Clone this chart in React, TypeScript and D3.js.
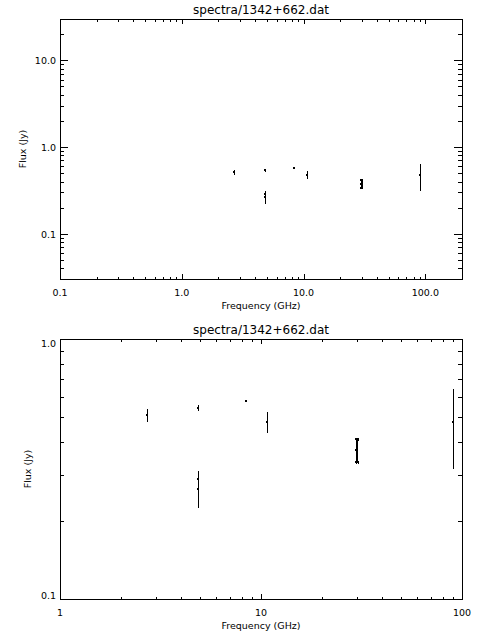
import * as d3 from "d3";

const freqGHz = [2.7, 4.85, 4.85, 4.85, 8.4, 10.7, 29.7, 30.1, 29.7, 30.4, 29.7, 30.4, 90.0];
const fluxJy = [0.51, 0.543, 0.29, 0.265, 0.579, 0.481, 0.373, 0.373, 0.411, 0.411, 0.336, 0.336, 0.48];
const fluxErr = [0.026, 0.012, 0.022, 0.04, 0.004, 0.043, 0.037, 0.037, 0.002, 0.002, 0.002, 0.002, 0.16];

const plotTitle = "spectra/1342+662.dat";
const xTitle = "Frequency (GHz)";
const yTitle = "Flux (Jy)";

const topXDomain = [0.1, 200];
const topYDomain = [0.03, 30];
const topXTickValues = [0.1, 1, 10, 100];
const topXTickLabels = ["0.1", "1.0", "10.0", "100.0"];
const topYTickValues = [0.1, 1, 10];
const topYTickLabels = ["0.1", "1.0", "10.0"];

const bottomXDomain = [1, 100];
const bottomYDomain = [0.1, 1];
const bottomXTickValues = [1, 10, 100];
const bottomXTickLabels = ["1", "10", "100"];
const bottomYTickValues = [0.1, 1];
const bottomYTickLabels = ["0.1", "1.0"];

const font = "DejaVu Sans, sans-serif";
const left = 60;
const right = 462;
const plotH = 260;

const isMajor = (v: number) => Math.abs(Math.log10(v) - Math.round(Math.log10(v))) < 1e-9;

const Panel = ({ top, xDomain, yDomain, xTicks, xLabels, yTicks, yLabels, yTitleX }: any) => {
    const bottom = top + plotH;
    const x = d3.scaleLog().domain(xDomain).range([left, right]);
    const y = d3.scaleLog().domain(yDomain).range([bottom, top]);

    const xAll = x.ticks().filter((t) => t > xDomain[0] && t < xDomain[1]);
    const yAll = y.ticks().filter((t) => t > yDomain[0] && t < yDomain[1]);

    const xMajorLen = 5, xMinorLen = 2.5;
    const yMajorLen = 8, yMinorLen = 4;

    return (
        <g>
            <text x={(left + right) / 2} y={top - 5} textAnchor="middle" fontFamily={font} fontSize={12}>
                {plotTitle}
            </text>

            {/* frame */}
            <rect x={left + 0.5} y={top + 0.5} width={right - left} height={plotH} fill="none" stroke="black" strokeWidth={1} shapeRendering="crispEdges" />

            {/* x ticks, bottom and top */}
            {xAll.map((t, i) => {
                const px = Math.round(x(t)) + 0.5;
                const len = isMajor(t) ? xMajorLen : xMinorLen;
                return (
                    <g key={"xt" + i} stroke="black" shapeRendering="crispEdges">
                        <line x1={px} x2={px} y1={bottom} y2={bottom - len} />
                        <line x1={px} x2={px} y1={top} y2={top + len} />
                    </g>
                );
            })}

            {/* y ticks, left and right */}
            {yAll.map((t, i) => {
                const py = Math.round(y(t)) + 0.5;
                const len = isMajor(t) ? yMajorLen : yMinorLen;
                return (
                    <g key={"yt" + i} stroke="black" shapeRendering="crispEdges">
                        <line x1={left} x2={left + len} y1={py} y2={py} />
                        <line x1={right} x2={right - len} y1={py} y2={py} />
                    </g>
                );
            })}

            {xTicks.map((t: number, i: number) => (
                <text key={"xl" + i} x={x(t)} y={bottom + 17} textAnchor="middle" fontFamily={font} fontSize={9.5}>
                    {xLabels[i]}
                </text>
            ))}

            {yTicks.map((t: number, i: number) => {
                // keep labels inside the vertical extent of the frame
                const base = Math.min(Math.max(y(t) + 4, top + 8), bottom);
                return (
                    <text key={"yl" + i} x={left - 4} y={base} textAnchor="end" fontFamily={font} fontSize={9.5}>
                        {yLabels[i]}
                    </text>
                );
            })}

            <text x={(left + right) / 2} y={bottom + 30} textAnchor="middle" fontFamily={font} fontSize={9.5}>
                {xTitle}
            </text>
            <text
                transform={`translate(${yTitleX}, ${(top + bottom) / 2}) rotate(-90)`}
                textAnchor="middle"
                fontFamily={font}
                fontSize={9.5}
            >
                {yTitle}
            </text>

            {/* error bars + dots */}
            {freqGHz.map((f, i) => {
                const px = Math.round(x(f));
                const yHi = y(fluxJy[i] + fluxErr[i]);
                const yLo = y(fluxJy[i] - fluxErr[i]);
                const py = Math.round(y(fluxJy[i]));
                return (
                    <g key={"p" + i} shapeRendering="crispEdges">
                        <line x1={px + 0.5} x2={px + 0.5} y1={Math.round(yHi)} y2={Math.round(yLo) + 1} stroke="black" strokeWidth={1} />
                        <rect x={px - 1} y={py - 1} width={2} height={2} fill="black" />
                    </g>
                );
            })}
        </g>
    );
};

export default function App() {
    return (
        <svg width={480} height={640} style={{ position: "absolute", left: 0, top: 0, background: "white" }}>
            <rect width={480} height={640} fill="white" />
            <Panel
                top={19}
                xDomain={topXDomain}
                yDomain={topYDomain}
                xTicks={topXTickValues}
                xLabels={topXTickLabels}
                yTicks={topYTickValues}
                yLabels={topYTickLabels}
                yTitleX={26}
            />
            <Panel
                top={339}
                xDomain={bottomXDomain}
                yDomain={bottomYDomain}
                xTicks={bottomXTickValues}
                xLabels={bottomXTickLabels}
                yTicks={bottomYTickValues}
                yLabels={bottomYTickLabels}
                yTitleX={31}
            />
        </svg>
    );
}
